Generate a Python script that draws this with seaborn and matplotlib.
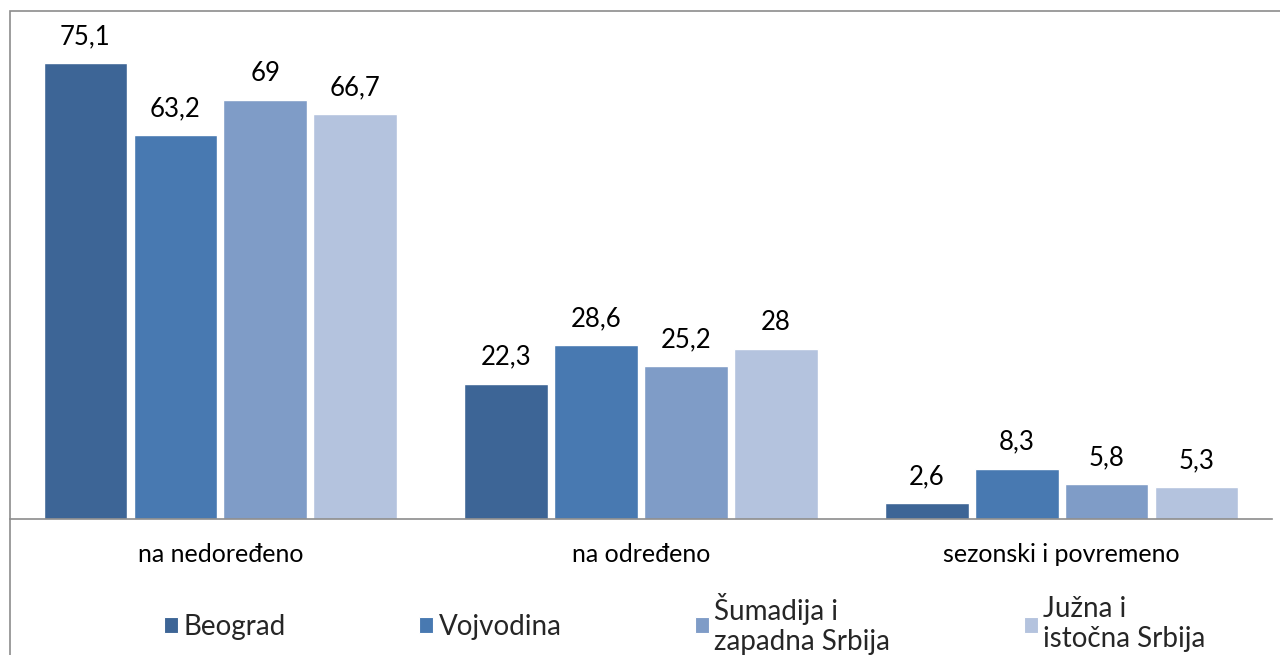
import numpy as np
import pandas as pd
import seaborn as sns
import matplotlib.pyplot as plt
from matplotlib.patches import Rectangle

# data
categories = ['na nedoređeno', 'na određeno', 'sezonski i povremeno']
regions = ['Beograd', 'Vojvodina', 'Šumadija i\nzapadna Srbija', 'Južna i\nistočna Srbija']
beograd = [75.1, 22.3, 2.6]
vojvodina = [63.2, 28.6, 8.3]
sumadija = [69, 25.2, 5.8]
juzna = [66.7, 28, 5.3]
colors = ['#3d6596', '#4879b1', '#7f9cc7', '#b4c3de']

rows = []
for reg, vals in zip(regions, [beograd, vojvodina, sumadija, juzna]):
    for cat, v in zip(categories, vals):
        rows.append({'kategorija': cat, 'region': reg, 'vrednost': v})
df = pd.DataFrame(rows)

# styling
sns.set_theme(style='white')
plt.rcParams['font.family'] = ['Lato', 'DejaVu Sans']

fig = plt.figure(figsize=(12.8, 6.55), dpi=100)
ax = fig.add_axes([10 / 1280, 1 - 519 / 655, 1262 / 1280, 486 / 655])

sns.barplot(data=df, x='kategorija', y='vrednost', hue='region', hue_order=regions,
            order=categories, palette=colors, width=0.855, gap=0.07,
            edgecolor='white', linewidth=1, saturation=1, legend=False, ax=ax)

for cont in ax.containers:
    labels = [f'{v:g}'.replace('.', ',') for v in cont.datavalues]
    ax.bar_label(cont, labels=labels, padding=10, fontsize=18.5, color='black')

ax.set_xlim(-0.5, 2.5)
ax.set_ylim(0, 80)
ax.set_xlabel('')
ax.set_ylabel('')
ax.set_yticks([])
ax.tick_params(axis='x', length=0, pad=17, labelsize=18, labelcolor='black')
for s in ['top', 'left', 'right']:
    ax.spines[s].set_visible(False)
ax.spines['bottom'].set_color('#8c8c8c')
ax.spines['bottom'].set_linewidth(1.2)
ax.patch.set_alpha(0)

# legend
handles = [Rectangle((0, 0), 1, 1, facecolor=c, edgecolor='white', linewidth=0.8) for c in colors]
fig.legend(handles, regions, loc='lower center', bbox_to_anchor=(0.535, -0.03), ncol=4,
           frameon=False, fontsize=20, handlelength=0.5, handleheight=0.5,
           handletextpad=0.2, columnspacing=4.8, borderpad=0.2, labelspacing=0)

# figure border
fig.patches.append(Rectangle((10 / 1280, -0.05), 1.1, 1 - 11 / 655 + 0.05,
                             transform=fig.transFigure, fill=False,
                             edgecolor='#8c8c8c', linewidth=1.2, zorder=0))

fig.savefig('out.png', dpi=100)
